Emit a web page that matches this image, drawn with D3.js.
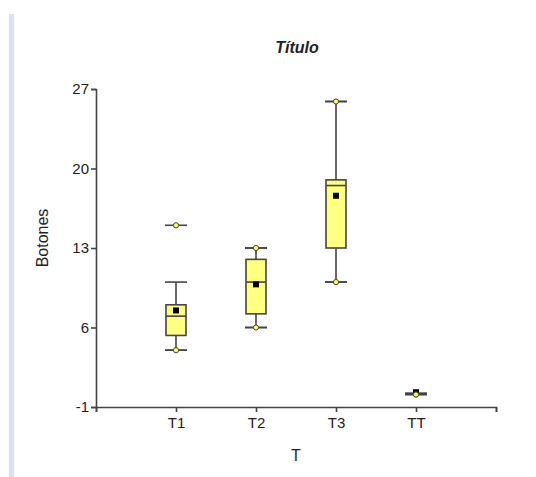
<!DOCTYPE html>
<html>
<head>
  <meta charset="utf-8">
  <script src="https://d3js.org/d3.v7.min.js"></script>
  <style>
    body { margin: 0; background: #fff; }
    text { font-family: "Liberation Sans", Arial, sans-serif; fill: #222; }
  </style>
</head>
<body>
<script>
  // chart data
  var groups    = ["T1", "T2", "T3", "TT"];
  var q1        = [5.3, 7.2, 13, 0.2];
  var medians   = [7, 10, 18.5, 0.2];
  var q3        = [8, 12, 19, 0.2];
  var whiskLo   = [4, 6, 10, 0.2];
  var whiskHi   = [10, 13, 25.9, 0.2];
  var means     = [7.5, 9.8, 17.6, 0.3];
  var mins      = [4, 6, 10, 0.1];
  var maxs      = [15, 13, 25.9, 0.1];
  var yTicks    = [-1, 6, 13, 20, 27];

  var W = 536, H = 477;
  var plotL = 96, plotR = 496, plotT = 89, plotB = 407;

  var svg = d3.select("body").append("svg")
      .attr("width", W).attr("height", H);

  // light blue strip at the left
  svg.append("rect").attr("x", 9).attr("y", 14).attr("width", 5).attr("height", 463)
    .attr("fill", "#d8e4f3");

  var x = d3.scaleLinear().domain([0, 5]).range([plotL, plotR]);
  var y = d3.scaleLinear().domain([-1, 27]).range([plotB, plotT]);

  // axes
  var yAxis = svg.append("g").attr("transform", "translate(" + plotL + ",0)")
    .call(d3.axisLeft(y).tickValues(yTicks).tickSize(5).tickPadding(2)
      .tickFormat(function (d) { return String(d); }));
  var xAxis = svg.append("g").attr("transform", "translate(0," + plotB + ")")
    .call(d3.axisBottom(x).tickValues([0, 1, 2, 3, 4, 5]).tickSize(5).tickPadding(5)
      .tickFormat(function (d) { return groups[d - 1] || ""; }));
  [yAxis, xAxis].forEach(function (g) {
    g.select(".domain").attr("stroke", "#444").attr("stroke-width", 1.6);
    g.selectAll(".tick line").attr("stroke", "#444").attr("stroke-width", 1.6);
    g.selectAll("text").style("font-size", "15px").attr("fill", "#222");
  });

  // titles
  svg.append("text").attr("x", 297).attr("y", 53).attr("text-anchor", "middle")
    .style("font-size", "16px").style("font-weight", "bold").style("font-style", "italic")
    .text("Título");
  svg.append("text").attr("x", x(2.5)).attr("y", 461).attr("text-anchor", "middle")
    .style("font-size", "16px").text("T");
  svg.append("text").attr("transform", "translate(48,238) rotate(-90)").attr("text-anchor", "middle")
    .style("font-size", "16px").text("Botones");

  var boxW = 20, capW = 22;
  var stroke = "#444";

  groups.forEach(function (g, i) {
    var cx = x(i + 1);
    var grp = svg.append("g");

    // whiskers
    grp.append("line").attr("x1", cx).attr("x2", cx)
      .attr("y1", y(whiskLo[i])).attr("y2", y(whiskHi[i]))
      .attr("stroke", stroke).attr("stroke-width", 1.6);
    // caps at whisker ends and extremes
    [whiskLo[i], whiskHi[i], mins[i], maxs[i]].forEach(function (v) {
      grp.append("line").attr("x1", cx - capW / 2).attr("x2", cx + capW / 2)
        .attr("y1", y(v)).attr("y2", y(v))
        .attr("stroke", stroke).attr("stroke-width", 1.6);
    });

    // box
    if (q3[i] > q1[i]) {
      grp.append("rect").attr("x", cx - boxW / 2).attr("width", boxW)
        .attr("y", y(q3[i])).attr("height", y(q1[i]) - y(q3[i]))
        .attr("fill", "#ffff80").attr("stroke", stroke).attr("stroke-width", 1.6);
      grp.append("line").attr("x1", cx - boxW / 2).attr("x2", cx + boxW / 2)
        .attr("y1", y(medians[i])).attr("y2", y(medians[i]))
        .attr("stroke", stroke).attr("stroke-width", 1.6);
    }

    // mean
    grp.append("rect").attr("x", cx - 3).attr("y", y(means[i]) - 3)
      .attr("width", 6).attr("height", 6).attr("fill", "#000");

    // min / max points
    [mins[i], maxs[i]].forEach(function (v) {
      grp.append("circle").attr("cx", cx).attr("cy", y(v)).attr("r", 2.6)
        .attr("fill", "#ffff66").attr("stroke", stroke).attr("stroke-width", 1);
    });
  });
</script>
</body>
</html>
